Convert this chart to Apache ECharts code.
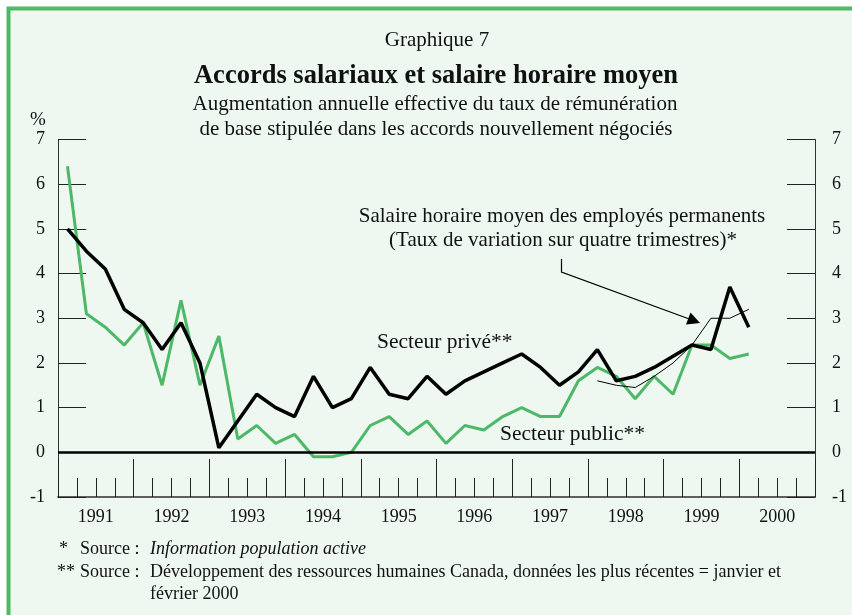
<!DOCTYPE html>
<html>
<head>
<meta charset="utf-8">
<script src="https://cdn.jsdelivr.net/npm/echarts@6/dist/echarts.min.js"></script>
<style>
  html, body { margin: 0; padding: 0; background: #fff; }
  #chart { width: 852px; height: 615px; }
</style>
</head>
<body>
<div id="chart"></div>
<script>
// années et trimestres (axe horizontal)
const years = ['1991', '1992', '1993', '1994', '1995', '1996', '1997', '1998', '1999', '2000'];
const quarterNames = ['T1', 'T2', 'T3', 'T4'];
const quarters = years.flatMap(y => quarterNames.map(q => y + q));

const yTicks = [-1, 0, 1, 2, 3, 4, 5, 6, 7];

// Secteur privé** (trait noir épais), 1991T1 - 2000T1
const prive = [5.0, 4.5, 4.1, 3.2, 2.9, 2.3, 2.9, 2.0, 0.1, 0.7, 1.3, 1.0, 0.8, 1.7, 1.0, 1.2,
  1.9, 1.3, 1.2, 1.7, 1.3, 1.6, 1.8, 2.0, 2.2, 1.9, 1.5, 1.8, 2.3, 1.6, 1.7, 1.9, 2.15, 2.4, 2.3, 3.7, 2.8];

// Secteur public** (trait vert)
const public_ = [6.4, 3.1, 2.8, 2.4, 2.9, 1.5, 3.4, 1.5, 2.6, 0.3, 0.6, 0.2, 0.4, -0.1, -0.1, 0.0,
  0.6, 0.8, 0.4, 0.7, 0.2, 0.6, 0.5, 0.8, 1.0, 0.8, 0.8, 1.6, 1.9, 1.7, 1.2, 1.7, 1.3, 2.4, 2.4, 2.1, 2.2];

// Salaire horaire moyen des employés permanents (trait fin), à partir de 1998T1
const salaire = [null, null, null, null, null, null, null, null, null, null, null, null, null, null,
  null, null, null, null, null, null, null, null, null, null, null, null, null, null,
  1.6, 1.5, 1.45, 1.7, 2.0, 2.4, 3.0, 3.0, 3.2];

const serif = '"Liberation Serif", "DejaVu Serif", serif';
const vert = '#4cb868';

const chart = echarts.init(document.getElementById('chart'), null, { renderer: 'canvas' });

const yAxisBase = {
  type: 'value',
  min: yTicks[0],
  max: yTicks[yTicks.length - 1],
  interval: 1,
  splitLine: { show: false },
  axisLine: { show: true, lineStyle: { color: '#333', width: 1 } },
  axisTick: { show: true, inside: true, length: 28, lineStyle: { color: '#222', width: 1 } },
  axisLabel: { color: '#111', fontFamily: serif, fontSize: 18 }
};

const text = (x, y, s, opts) => ({
  type: 'text', x: x, y: y, silent: true,
  style: Object.assign({
    text: s, fontFamily: serif, fontSize: 21, fill: '#111',
    textAlign: 'center', textVerticalAlign: 'middle'
  }, opts || {})
});

const option = {
  animation: false,
  backgroundColor: '#fff',
  grid: { left: 58, right: 37, top: 139.5, bottom: 118, containLabel: false },
  xAxis: [
    {
      type: 'category', data: quarters, boundaryGap: true, position: 'bottom',
      axisLine: { show: true, onZero: false, lineStyle: { color: '#555', width: 1.5 } },
      axisTick: { show: true, inside: true, length: 19, interval: 0, lineStyle: { color: '#222', width: 1 } },
      axisLabel: { show: false }
    },
    {
      type: 'category', data: years, boundaryGap: true, position: 'bottom',
      axisLine: { show: true, onZero: false, lineStyle: { color: '#555', width: 1.5 } },
      axisTick: { show: true, inside: true, length: 38, interval: 0, lineStyle: { color: '#222', width: 1 } },
      axisLabel: { show: true, interval: 0, margin: 11, color: '#111', fontFamily: serif, fontSize: 18 }
    }
  ],
  yAxis: [
    Object.assign({}, yAxisBase, { position: 'left', axisLabel: Object.assign({}, yAxisBase.axisLabel, { margin: 13 }) }),
    Object.assign({}, yAxisBase, { position: 'right', axisLabel: Object.assign({}, yAxisBase.axisLabel, { margin: 17 }) })
  ],
  series: [
    {
      name: 'Secteur public**', type: 'line', data: public_, xAxisIndex: 0, yAxisIndex: 0,
      symbol: 'none', lineStyle: { color: vert, width: 3 }, z: 2,
      markLine: {
        silent: true, symbol: 'none', label: { show: false },
        lineStyle: { color: '#000', width: 2.5, type: 'solid' },
        data: [{ yAxis: 0 }]
      }
    },
    {
      name: 'Secteur privé**', type: 'line', data: prive, xAxisIndex: 0, yAxisIndex: 0,
      symbol: 'none', lineStyle: { color: '#000', width: 3.5 }, z: 3
    },
    {
      name: 'Salaire horaire moyen', type: 'line', data: salaire, xAxisIndex: 0, yAxisIndex: 0,
      symbol: 'none', connectNulls: false, lineStyle: { color: '#000', width: 1 }, z: 4
    }
  ],
  graphic: [
    // cadre vert
    {
      type: 'rect', x: 8.5, y: 8.5, z: -10, silent: true,
      shape: { width: 900, height: 700 },
      style: { fill: '#eef8f1', stroke: '#4dbb66', lineWidth: 4 }
    },
    text(437, 40, 'Graphique 7'),
    text(436, 76, 'Accords salariaux et salaire horaire moyen', { fontSize: 26.5, fontWeight: 'bold' }),
    text(435, 104, 'Augmentation annuelle effective du taux de rémunération'),
    text(436, 129, 'de base stipulée dans les accords nouvellement négociés'),
    text(38, 120, '%', { fontSize: 19 }),
    text(562, 216, 'Salaire horaire moyen des employés permanents'),
    text(563, 240, '(Taux de variation sur quatre trimestres)*'),
    text(377, 342, 'Secteur privé**', { fontSize: 21.5, textAlign: 'left' }),
    text(500, 434, 'Secteur public**', { fontSize: 21.5, textAlign: 'left' }),
    // flèche
    {
      type: 'polyline', silent: true, z: 10,
      shape: { points: [[561.5, 259], [561.5, 272], [692, 320]] },
      style: { stroke: '#000', lineWidth: 1.2, fill: null }
    },
    {
      type: 'polygon', silent: true, z: 10,
      shape: { points: [[700, 323], [686, 324.5], [690.5, 312.5]] },
      style: { fill: '#000' }
    },
    // sources
    text(59, 549, '*', { fontSize: 18, textAlign: 'left' }),
    text(80, 549, 'Source :', { fontSize: 18, textAlign: 'left' }),
    text(150, 549, 'Information population active', { fontSize: 18, textAlign: 'left', fontStyle: 'italic' }),
    text(57, 572, '**', { fontSize: 18, textAlign: 'left' }),
    text(80, 572, 'Source :', { fontSize: 18, textAlign: 'left' }),
    text(150, 572, 'Développement des ressources humaines Canada, données les plus récentes = janvier et', { fontSize: 18, textAlign: 'left' }),
    text(150, 594, 'février 2000', { fontSize: 18, textAlign: 'left' })
  ]
};

chart.setOption(option);
</script>
</body>
</html>
